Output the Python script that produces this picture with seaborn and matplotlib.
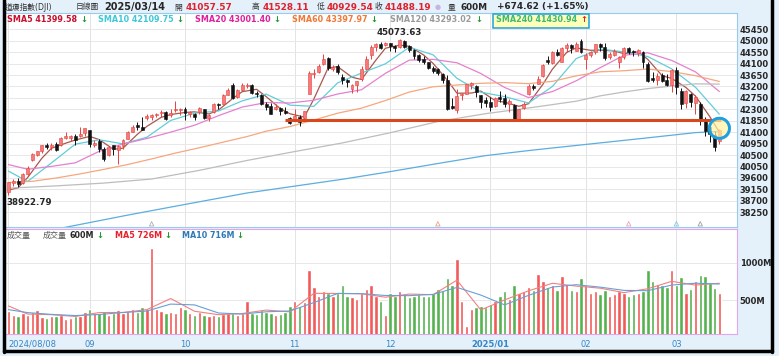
import matplotlib
matplotlib.use("Agg")
import matplotlib.pyplot as plt
from matplotlib.lines import Line2D
from matplotlib.patches import Rectangle
import seaborn as sns
import pandas as pd

# ---------------- data (DJI daily, 2024/08/08 - 2025/03/14) ----------------
opens = [39030, 39410, 39500, 39400, 39770, 40300, 40510, 40660, 40880, 40830,
         40930, 40900, 41190, 41180, 41270, 41260, 41380, 41480, 40880, 41040,
         40760, 40500, 40880, 40700, 40860, 41150, 41420, 41700, 41620, 41960,
         41990, 42070, 42150, 42210, 42090, 42270, 42280, 42300, 42130, 42120,
         42180, 42300, 41960, 42200, 42520, 42530, 42870, 43250, 42800, 43080,
         43220, 43260, 42960, 42870, 42520, 42450, 42300, 42340, 42220, 41950,
         41880, 42000, 41960, 42900, 43700, 43780, 44070, 44310, 43900, 44000,
         43590, 43440, 43100, 43250, 43500, 43900, 44440, 44760, 44860, 44820,
         44910, 44800, 44750, 45000, 44780, 44630, 44420, 44300, 44150, 43940,
         43880, 43700, 43470, 42450, 42290, 42850, 42920, 43260, 43200, 42860,
         42650, 42600, 42450, 42800, 42750, 42520, 42470, 41870, 42350, 42900,
         43220, 43300, 43600, 44230, 44140, 44560, 44180, 44700, 44820, 44600,
         45000, 44300, 44420, 44560, 44880, 44770, 44350, 44420, 44150, 44360,
         44700, 44590, 44500, 44560, 44100, 43520, 43460, 43650, 43440, 43250,
         43860, 43030, 42550, 42900, 42560, 42520, 41900, 41600, 41300, 41057.57]
highs = [39460, 39560, 39600, 39790, 40060, 40600, 40680, 40910, 40960, 40980,
         41030, 41210, 41420, 41290, 41320, 41590, 41585, 41500, 41100, 41150,
         40830, 40850, 40900, 40900, 41140, 41450, 41690, 41812, 42000, 42120,
         42100, 42170, 42290, 42230, 42310, 42630, 42360, 42380, 42240, 42150,
         42410, 42330, 42130, 42540, 42560, 42900, 43140, 43325, 43100, 43320,
         43330, 43280, 43020, 42900, 42600, 42550, 42500, 42380, 42380, 42000,
         42300, 42080, 42240, 43800, 43900, 44080, 44490, 44370, 44060, 44070,
         43690, 43500, 43300, 43420, 44000, 44390, 44830, 44900, 44960, 44960,
         44930, 44840, 45073.63, 45040, 44830, 44680, 44480, 44400, 44170, 44000,
         43920, 43750, 43640, 42730, 43100, 42950, 43300, 43380, 43250, 42880,
         42790, 42800, 42800, 43030, 42900, 42700, 42500, 42300, 42600, 43280,
         43300, 43600, 44080, 44380, 44580, 44690, 44770, 44900, 44880, 44950,
         45054, 44500, 44600, 44890, 44920, 44910, 44550, 44680, 44400, 44740,
         44750, 44650, 44690, 44590, 44180, 43760, 43750, 43740, 43700, 43880,
         43950, 43150, 43070, 42960, 42880, 42600, 42000, 41800, 41450, 41528.11]
lows = [38922.79, 39300, 39240, 39380, 39710, 40280, 40460, 40600, 40750, 40700,
        40680, 40870, 41130, 41070, 40900, 41200, 41250, 40820, 40800, 40640,
        40250, 40470, 40520, 40170, 40750, 41120, 41400, 41500, 41470, 41900,
        41880, 42000, 42000, 41880, 41990, 42210, 42080, 41880, 42000, 41880,
        42100, 41940, 41860, 42150, 42300, 42500, 42850, 42700, 42750, 43040,
        43150, 42900, 42790, 42480, 42280, 42100, 42280, 42080, 42130, 41740,
        41850, 41660, 41900, 42890, 43550, 43750, 44050, 43850, 43790, 43700,
        43300, 43180, 42960, 42990, 43400, 43860, 44300, 44600, 44690, 44800,
        44600, 44570, 44720, 44730, 44550, 44300, 44180, 44100, 43900, 43720,
        43640, 43330, 42290, 42320, 42140, 42670, 42900, 43100, 42770, 42350,
        42400, 42230, 42400, 42600, 42400, 42200, 41840, 41840, 42300, 42870,
        43050, 43280, 43580, 44100, 44080, 44400, 44170, 44550, 44500, 44580,
        44520, 43880, 44350, 44470, 44600, 44250, 44300, 44400, 43920, 44290,
        44460, 44400, 44400, 43920, 43360, 43380, 43240, 43380, 43220, 43000,
        42920, 42300, 42350, 42400, 42100, 41700, 41240, 41000, 40660, 40929.54]
closes = [39446, 39497, 39357, 39765, 40008, 40563, 40659, 40896, 40834, 40890,
          40712, 41175, 41240, 41250, 41091, 41335, 41563, 40937, 40975, 40755,
          40345, 40830, 40736, 40861, 41097, 41394, 41622, 41606, 41503, 42025,
          42063, 42125, 42208, 41915, 42175, 42313, 42330, 42156, 42197, 42012,
          42353, 41954, 42080, 42512, 42454, 42864, 43065, 42740, 43077, 43239,
          43276, 42931, 42924, 42514, 42374, 42114, 42387, 42233, 42142, 41763,
          42052, 41794, 42222, 43730, 43729, 43989, 44293, 43911, 43958, 43751,
          43445, 43390, 43269, 43408, 43870, 44297, 44736, 44860, 44722, 44911,
          44782, 44705, 45014, 44766, 44643, 44401, 44248, 44149, 43914, 43828,
          43717, 43450, 42327, 42342, 42840, 42907, 43297, 43326, 42992, 42574,
          42544, 42392, 42732, 42707, 42528, 42635, 41938, 42297, 42518, 43222,
          43153, 43488, 44026, 44157, 44566, 44424, 44714, 44851, 44714, 44882,
          44545, 44422, 44556, 44873, 44747, 44303, 44470, 44593, 44368, 44712,
          44546, 44556, 44627, 44177, 43428, 43461, 43621, 43434, 43240, 43841,
          43191, 42521, 43006, 42580, 42802, 41912, 41433, 41350, 40814, 41488.19]
# volume in millions, one row per month
volumes = [350, 300, 280, 320, 300, 340, 360, 270, 260, 280, 290, 300, 250, 260, 290, 280, 340,
           380, 330, 320, 350, 300, 320, 360, 330, 350, 380, 340, 400, 380, 1200, 380, 350, 330, 340, 330, 400,
           380, 330, 300, 340, 300, 290, 300, 280, 310, 330, 330, 300, 320, 480, 330, 310, 360, 340, 330, 300, 310, 340, 420,
           480, 420, 470, 900, 680, 560, 620, 600, 560, 600, 700, 560, 540, 520, 600, 650, 700, 560, 480, 300,
           600, 560, 620, 580, 540, 560, 580, 560, 560, 600, 650, 640, 800, 700, 1050, 480, 150, 380, 400, 420, 400,
           450, 480, 560, 620, 520, 700, 600, 620, 680, 640, 850, 760, 680, 700, 640, 820, 720, 640, 620, 800,
           700, 600, 620, 580, 640, 560, 580, 620, 600, 560, 580, 600, 620, 900, 760, 720, 700, 680, 900,
           700, 810, 590, 650, 760, 840, 825, 725, 660, 600]

# moving averages, read at sample days
sma5_idx = [0, 2, 4, 7, 9, 12, 14, 17, 19, 22, 24, 27, 29, 32, 34, 37, 39, 42, 44, 47, 49,
            52, 54, 57, 59, 62, 64, 67, 69, 72, 74, 77, 79, 82, 84, 87, 89, 92, 94, 97, 99,
            102, 104, 107, 109, 112, 114, 117, 119, 122, 124, 127, 129, 132, 134, 137, 139,
            142, 144, 147, 149]
sma5 = [39129, 39212, 39615, 40378, 40768, 40970, 41094, 41235, 41113, 40728, 40774, 41316,
        41630, 41985, 42097, 42178, 42202, 42119, 42271, 42727, 42997, 43089, 42804, 42324,
        42128, 41995, 42705, 43930, 43980, 43563, 43476, 44234, 44705, 44827, 44782, 44441,
        44108, 43447, 42935, 42942, 43019, 42647, 42581, 42421, 42522, 43281, 43878, 44542,
        44717, 44624, 44629, 44597, 44489, 44562, 44267, 43624, 43519, 43160, 42820, 42015, 41399.58]
sma_idx = [0, 4, 9, 14, 19, 24, 29, 34, 39, 44, 49, 54, 59, 64, 69, 74, 79, 84, 89, 94, 99,
           104, 109, 114, 119, 124, 129, 134, 139, 144, 149]
sma10 = [39871, 39462, 40192, 40931, 41103, 40943, 41202, 41864, 42149, 42236, 42634, 42900,
         42466, 42417, 43343, 43728, 44091, 44744, 44445, 43522, 42977, 42800, 42551, 43200,
         44298, 44673, 44559, 44378, 43893, 43170, 42109.75]
sma20 = [40129, 39943, 40056, 40197, 40647, 40937, 41153, 41404, 41676, 42050, 42392, 42568,
         42550, 42659, 42904, 43073, 43717, 44236, 44268, 44133, 43711, 43161, 42764, 43000,
         43424, 43936, 44428, 44525, 44226, 43774, 43001.40]
sma60_idx = [0, 5, 10, 15, 20, 25, 30, 35, 40, 45, 50, 54, 59, 64, 69, 74, 79, 84, 89, 94,
             99, 104, 109, 114, 119, 124, 129, 134, 139, 144, 149]
sma60 = [39420, 39470, 39600, 39760, 39940, 40130, 40350, 40580, 40790, 41010, 41230, 41440,
         41624, 41882, 42150, 42348, 42647, 42981, 43188, 43258, 43326, 43352, 43312, 43402,
         43617, 43778, 43820, 43886, 43787, 43624, 43397.97]
sma120_idx = [0, 10, 20, 30, 40, 50, 60, 70, 80, 90, 100, 110, 119, 124, 129, 134, 139, 144, 149]
sma120 = [39200, 39290, 39400, 39560, 39900, 40290, 40640, 40980, 41380, 41820, 42130, 42380,
          42621, 42830, 42985, 43117, 43217, 43303, 43293.02]
sma240_idx = [0, 12, 25, 37, 50, 60, 70, 80, 90, 100, 110, 120, 133, 144, 149]
sma240 = [37230, 37662, 38140, 38560, 39010, 39280, 39550, 39850, 40170, 40480, 40700, 40900,
          41160, 41385, 41430.94]

vma_idx = [0, 4, 9, 14, 19, 24, 29, 34, 39, 44, 49, 54, 59, 64, 69, 74, 79, 84, 89, 94, 99,
           104, 109, 114, 119, 124, 129, 134, 139, 144, 149]
vma5 = [420, 310, 302, 278, 330, 332, 370, 520, 348, 302, 318, 364, 340, 590, 588, 584, 538,
        580, 572, 768, 366, 502, 624, 726, 688, 660, 600, 652, 752, 702, 726]
vma10 = [370, 330, 306, 290, 304, 331, 351, 445, 434, 325, 310, 341, 352, 465, 589, 586, 561,
         559, 576, 670, 567, 434, 563, 675, 707, 674, 630, 626, 702, 727, 716]

month_pos = [0, 17, 37, 60, 80, 101, 121, 140]
month_labels = ["2024/08/08", "09", "10", "11", "12", "2025/01", "02", "03"]
price_ticks = list(range(38250, 45451, 450))
support_level = 41870
support_start = 58
event_marks = [30, 90, 130, 140, 145]
event_colors = ["#b0b0b0", "#f0a080", "#f0a0c0", "#80c8e8", "#a0a0a0"]

# ---------------- style ----------------
sns.set_style("white")
plt.rcParams['font.family'] = ['DejaVu Sans', 'Noto Sans CJK TC']

W, H = 779, 356
fig = plt.figure(figsize=(W / 100, H / 100), dpi=100)
fig.patch.set_facecolor("#e4f1fb")


def px_axes(left, top, right, bottom):
    return fig.add_axes([left / W, 1 - bottom / H, (right - left) / W, (bottom - top) / H])


def ftext(x, y, s, **kw):
    kw.setdefault("va", "center")
    fig.text(x / W, 1 - y / H, s, **kw)


ax_p = px_axes(5, 13, 737, 227)
ax_v = px_axes(5, 229, 737, 334)

n = len(closes)
days = list(range(n))
up_color, up_edge, down_color = "#f47b7b", "#e8413f", "#111111"

# ---------------- price panel ----------------
for ax in (ax_p, ax_v):
    ax.set_facecolor("white")
    ax.set_xlim(-0.73, 152.7)
    for x in month_pos:
        ax.axvline(x, color="#e3e3e3", lw=0.7, zorder=0)

for t in price_ticks:
    ax_p.axhline(t, color="#e8e8e8", lw=0.7, zorder=0)

for i in days:
    o, h, l, c = opens[i], highs[i], lows[i], closes[i]
    is_up = c >= o
    col = up_edge if is_up else down_color
    ax_p.vlines(i, l, h, color=col, lw=0.7, zorder=3)
    ax_p.bar(i, max(abs(c - o), 8), bottom=min(o, c), width=0.62,
             color=up_color if is_up else down_color,
             edgecolor=col, linewidth=0.4, zorder=4)

ma_lines = [
    (sma5_idx, sma5, "#a8584c"),
    (sma_idx, sma10, "#62cdd8"),
    (sma_idx, sma20, "#e580cf"),
    (sma60_idx, sma60, "#f6a77e"),
    (sma120_idx, sma120, "#bdbdbd"),
    (sma240_idx, sma240, "#5aaee0"),
]
for xs, ys, col in ma_lines:
    sns.lineplot(x=xs, y=ys, color=col, lw=0.9, ax=ax_p, zorder=2)

ax_p.hlines(support_level, support_start, n - 0.7, color="#d9481c", lw=2.2, zorder=5)
ax_p.scatter([n - 1], [closes[-1] + 70], s=210, facecolor="#fff3a0", alpha=0.7,
             edgecolor="#1ea0e0", linewidth=2, zorder=6)
ax_p.scatter([n - 1], [closes[-1] + 70], s=210, facecolor="none",
             edgecolor="#1ea0e0", linewidth=2, zorder=7)

hi = highs.index(max(highs))
ax_p.annotate(f"{max(highs):.2f}", (hi, max(highs)), xytext=(0, 1.5), textcoords="offset points",
              ha="center", va="bottom", fontsize=6.2, fontweight="bold")
lo = lows.index(min(lows))
ax_p.annotate(f"{min(lows):.2f}", (lo, min(lows)), xytext=(-1.5, -2), textcoords="offset points",
              ha="left", va="top", fontsize=6.2, fontweight="bold")

tr = ax_p.get_xaxis_transform()
for x, c in zip(event_marks, event_colors):
    ax_p.scatter([x], [0.015], marker="^", s=10, facecolor="none", edgecolor=c,
                 linewidth=0.6, transform=tr, zorder=6, clip_on=False)

ax_p.set_ylim(37672, 46091)
ax_p.yaxis.tick_right()
ax_p.set_yticks(price_ticks)
ax_p.set_yticklabels([str(t) for t in price_ticks], fontsize=6, fontweight="bold")
ax_p.tick_params(axis="y", length=0, pad=2)
ax_p.set_xticks([])
for s in ax_p.spines.values():
    s.set_color("#9ccbea")
    s.set_linewidth(0.8)

# ---------------- volume panel ----------------
vol_df = pd.DataFrame({"day": days, "vol": volumes,
                       "dir": ["up" if c >= o else "down" for o, c in zip(opens, closes)]})
sns.barplot(data=vol_df, x="day", y="vol", hue="dir", native_scale=True,
            palette={"up": "#f25a5a", "down": "#55b24f"}, width=0.72,
            errorbar=None, saturation=1, legend=False, ax=ax_v, zorder=3)
sns.lineplot(x=vma_idx, y=vma5, color="#f28080", lw=0.8, ax=ax_v, zorder=4)
sns.lineplot(x=vma_idx, y=vma10, color="#6a9fd6", lw=0.8, ax=ax_v, zorder=4)
for t in (500, 1000):
    ax_v.axhline(t, color="#e8e8e8", lw=0.7, zorder=0)
ax_v.set_ylim(41, 1459)
ax_v.yaxis.tick_right()
ax_v.set_yticks([500, 1000])
ax_v.set_yticklabels(["500M", "1000M"], fontsize=6, fontweight="bold")
ax_v.tick_params(axis="y", length=0, pad=2)
ax_v.set_xlim(-0.73, 152.7)
ax_v.set_xticks(month_pos)
ax_v.set_xticklabels(month_labels, fontsize=6, color="#3585c5")
ax_v.get_xticklabels()[0].set_horizontalalignment("left")
ax_v.get_xticklabels()[5].set_fontweight("bold")
ax_v.tick_params(axis="x", length=3, color="#3585c5", pad=1)
ax_v.set_xlabel("")
ax_v.set_ylabel("")
for s in ax_v.spines.values():
    s.set_color("#e3a6ea")
    s.set_linewidth(0.8)

# ---------------- header texts ----------------
cjk = dict(fontsize=5.6, color="#333333")
num = dict(fontsize=6.4, fontweight="bold")
ftext(5, 7, "道瓊指數(DJI)", **cjk)
ftext(76, 7, "日線圖", **cjk)
ftext(104, 7, "2025/03/14", fontsize=7.0, fontweight="bold")
ftext(174, 7, "開", **cjk)
ftext(186, 7, "41057.57", color="#e0202a", **num)
ftext(252, 7, "高", **cjk)
ftext(263, 7, "41528.11", color="#e0202a", **num)
ftext(317, 7, "低", **cjk)
ftext(327, 7, "40929.54", color="#e0202a", **num)
ftext(375, 7, "收", **cjk)
ftext(385, 7, "41488.19", color="#e0202a", **num)
ftext(438, 7, "●", fontsize=5, color="#c9b3e6", ha="center")
ftext(448, 7, "量", **cjk)
ftext(460, 7, "600M", **num)
ftext(497, 7, "+674.62 (+1.65%)", **num)

row2 = [
    (7, "SMA5 41399.58", "#c8102e"),
    (98, "SMA10 42109.75", "#3ec8d8"),
    (195, "SMA20 43001.40", "#e0209a"),
    (292, "SMA60 43397.97", "#f07838"),
    (390, "SMA120 43293.02", "#9a9a9a"),
]
for x, s, c in row2:
    ftext(x, 20, s, fontsize=5.8, fontweight="bold", color=c)
fig.add_artist(Rectangle((493 / W, 1 - 27.5 / H), 96 / W, 14 / H, transform=fig.transFigure,
                         facecolor="#ffffb8", edgecolor="#1ea0e0", lw=1.1, zorder=5))
fig.text(496 / W, 1 - 20 / H, "SMA240 41430.94", fontsize=5.8, fontweight="bold",
         color="#3cb878", va="center", zorder=6)
for x in (80, 176, 273, 370, 475):
    ftext(x, 20, "↓", fontsize=6, fontweight="bold", color="#1a9a2a")
ftext(580, 20, "↑", fontsize=6, fontweight="bold", color="#e02020", zorder=6)

ftext(7, 235, "成交量", fontsize=5.8, color="#555555")
ftext(43, 235, "成交量", fontsize=5.8, color="#555555")
ftext(70, 235, "600M", fontsize=5.8, fontweight="bold")
ftext(96, 235, "↓", fontsize=6, fontweight="bold", color="#1a9a2a")
ftext(115, 235, "MA5 726M", fontsize=5.8, fontweight="bold", color="#e8202a")
ftext(164, 235, "↓", fontsize=6, fontweight="bold", color="#1a9a2a")
ftext(182, 235, "MA10 716M", fontsize=5.8, fontweight="bold", color="#2a7ab8")
ftext(236, 235, "↓", fontsize=6, fontweight="bold", color="#1a9a2a")

# outer frame
for xs, ys in (([3.5, 3.5], [0, 352]), ([772, 772], [0, 352]), ([3.5, 772], [351, 351])):
    fig.add_artist(Line2D([x / W for x in xs], [1 - y / H for y in ys], color="black", lw=2.5))

fig.savefig("out.png", dpi=100, facecolor=fig.get_facecolor())
